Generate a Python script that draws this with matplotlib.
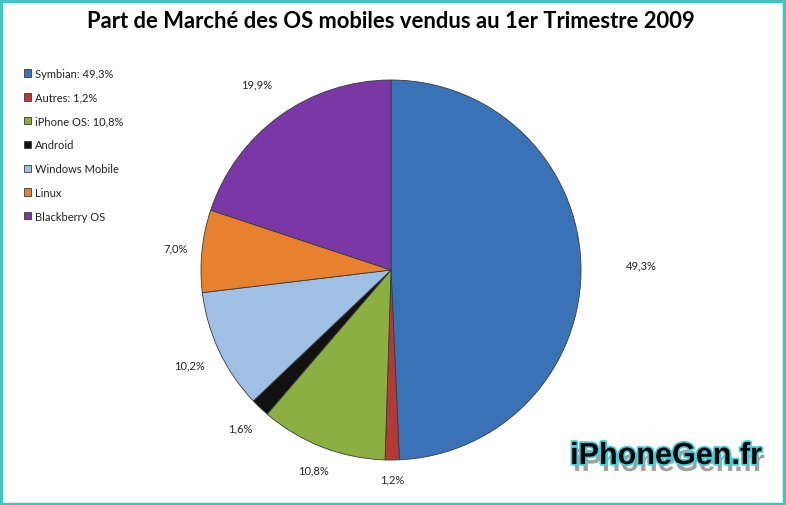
import numpy as np
import matplotlib.pyplot as plt
import matplotlib.patheffects as pe
from matplotlib.patches import Rectangle

plt.rcParams['font.family'] = ['Lato', 'DejaVu Sans']

# data
os_names = ['Symbian: 49,3%', 'Autres: 1,2%', 'iPhone OS: 10,8%', 'Android',
            'Windows Mobile', 'Linux', 'Blackberry OS']
shares = [49.3, 1.2, 10.8, 1.6, 10.2, 7.0, 19.9]
share_labels = ['49,3%', '1,2%', '10,8%', '1,6%', '10,2%', '7,0%', '19,9%']

colors = ['#3A72B8', '#B33A37', '#8BAF40', '#111111', '#9FBFE4', '#E8812D', '#7A38A6']
label_dist = [1.32, 1.10, 1.13, 1.15, 1.17, 1.14, 1.21]

W, H = 786, 506
fig = plt.figure(figsize=(W / 100, H / 100), dpi=100)
ax = fig.add_axes([0, 0, 1, 1])

cx, cy, r = 391, H - 271, 190
wedges, _ = ax.pie(shares, colors=colors, startangle=90, counterclock=False,
                   center=(cx, cy), radius=r, frame=True,
                   wedgeprops=dict(edgecolor='#3a3a3a', linewidth=0.6))
ax.set_xlim(0, W)
ax.set_ylim(0, H)
ax.set_aspect('equal')
ax.axis('off')

for w, lab, d in zip(wedges, share_labels, label_dist):
    ang = np.deg2rad((w.theta1 + w.theta2) / 2)
    ax.text(cx + d * r * np.cos(ang), cy + d * r * np.sin(ang), lab,
            ha='center', va='center', fontsize=8, color='#222222')

ax.legend(wedges, os_names, loc='upper left', bbox_to_anchor=(14 / W, 1 - 59 / H),
          frameon=False, fontsize=8, handlelength=0.65, handleheight=0.65,
          handletextpad=0.35, labelspacing=1.15, labelcolor='#222222')

fig.text(391 / W, 1 - 22 / H, 'Part de Marché des OS mobiles vendus au 1er Trimestre 2009',
         ha='center', va='center', fontsize=15.8, fontweight='bold', color='black')

fig.text(666 / W, 1 - 457 / H, 'iPhoneGen.fr', ha='center', va='center',
         fontsize=22, fontweight='bold', family=['Liberation Sans', 'DejaVu Sans'],
         color='black',
         path_effects=[pe.withSimplePatchShadow(offset=(2, -5), shadow_rgbFace='#777777', alpha=0.7),
                       pe.withStroke(linewidth=2.5, foreground='#3fd0e0')])

fig.patches.append(Rectangle((0.001, 0.002), 0.997, 0.995, transform=fig.transFigure,
                             fill=False, edgecolor='#45C3C3', linewidth=2.5))

fig.savefig('out.png', dpi=100)
